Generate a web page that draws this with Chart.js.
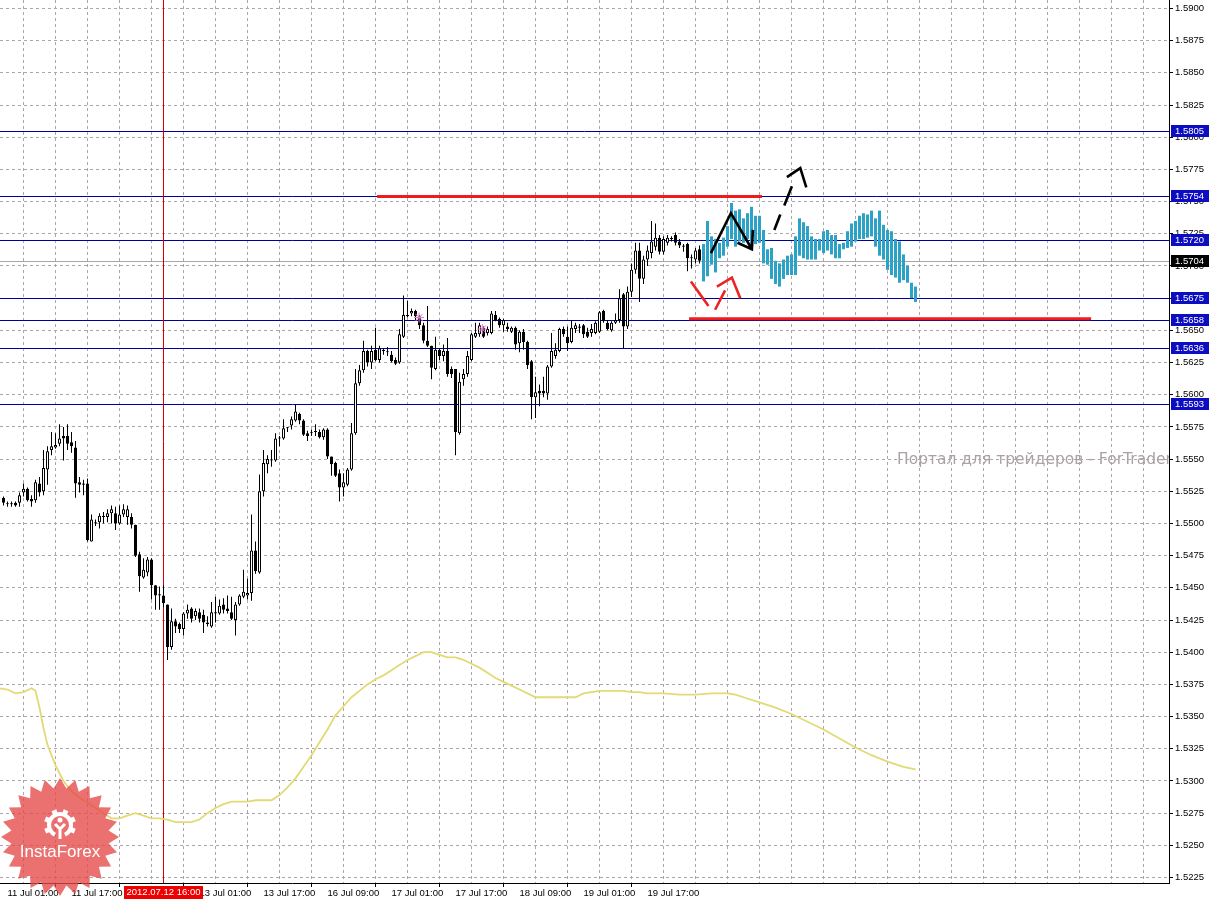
<!DOCTYPE html>
<html>
<head>
<meta charset="utf-8">
<title>GBPUSD H1</title>
<script src="https://cdn.jsdelivr.net/npm/chart.js@4.4.0/dist/chart.umd.min.js"></script>
<style>
    html, body { margin: 0; padding: 0; background: #fff; overflow: hidden; }
    #wrap { width: 1213px; height: 899px; }
</style>
</head>
<body>
<div id="wrap"><canvas id="chart" width="1213" height="899"></canvas></div>
<script>
// H1 bars, bar 0 = 11 Jul 01:00 (weekend hours skipped)
const firstBar = -1;

const opens = [
    1.5520,1.5515,1.5515,1.5516,1.5516,1.5524,1.5527,1.5519,1.5518,1.5531,
    1.5525,1.5542,1.5557,1.5559,1.5562,1.5568,1.5568,1.5563,1.5559,1.5532,
    1.5531,1.5531,1.5486,1.5500,1.5501,1.5505,1.5505,1.5508,1.5508,1.5500,
    1.5507,1.5505,1.5505,1.5499,1.5476,1.5458,1.5462,1.5472,1.5452,1.5445,
    1.5444,1.5437,1.5404,1.5424,1.5422,1.5418,1.5430,1.5434,1.5428,1.5431,
    1.5429,1.5423,1.5420,1.5430,1.5430,1.5437,1.5434,1.5431,1.5425,1.5437,
    1.5443,1.5444,1.5446,1.5479,1.5462,1.5525,1.5546,1.5549,1.5549,1.5566,
    1.5566,1.5574,1.5576,1.5580,1.5585,1.5580,1.5570,1.5570,1.5571,1.5571,
    1.5567,1.5573,1.5552,1.5547,1.5539,1.5528,1.5530,1.5542,1.5570,1.5609,
    1.5619,1.5634,1.5625,1.5635,1.5627,1.5634,1.5633,1.5631,1.5627,1.5625,
    1.5645,1.5661,1.5663,1.5665,1.5661,1.5654,1.5642,1.5638,1.5620,1.5635,
    1.5630,1.5634,1.5620,1.5620,1.5570,1.5612,1.5616,1.5627,1.5645,1.5647,
    1.5652,1.5648,1.5648,1.5662,1.5659,1.5654,1.5653,1.5649,1.5652,1.5640,
    1.5649,1.5641,1.5626,1.5598,1.5603,1.5603,1.5601,1.5622,1.5630,1.5634,
    1.5651,1.5645,1.5641,1.5651,1.5653,1.5654,1.5649,1.5648,1.5648,1.5649,
    1.5665,1.5656,1.5650,1.5656,1.5658,1.5678,1.5653,1.5680,1.5697,1.5712,
    1.5690,1.5705,1.5710,1.5715,1.5722,1.5711,1.5718,1.5721,1.5724,1.5719,
    1.5716,1.5717,1.5706,1.5705,1.5713
];
const highs = [
    1.5521,1.5517,1.5517,1.5517,1.5524,1.5531,1.5528,1.5522,1.5534,1.5536,
    1.5557,1.5560,1.5571,1.5570,1.5577,1.5575,1.5577,1.5571,1.5564,1.5536,
    1.5534,1.5535,1.5507,1.5503,1.5508,1.5509,1.5511,1.5514,1.5513,1.5514,
    1.5515,1.5514,1.5508,1.5499,1.5478,1.5473,1.5474,1.5473,1.5452,1.5451,
    1.5452,1.5437,1.5434,1.5426,1.5423,1.5431,1.5437,1.5435,1.5434,1.5434,
    1.5433,1.5428,1.5439,1.5443,1.5441,1.5442,1.5444,1.5443,1.5439,1.5445,
    1.5464,1.5457,1.5507,1.5486,1.5538,1.5557,1.5553,1.5557,1.5570,1.5568,
    1.5581,1.5575,1.5583,1.5592,1.5586,1.5581,1.5572,1.5573,1.5577,1.5573,
    1.5574,1.5574,1.5552,1.5548,1.5542,1.5539,1.5543,1.5578,1.5620,1.5623,
    1.5642,1.5635,1.5638,1.5652,1.5638,1.5636,1.5637,1.5634,1.5629,1.5651,
    1.5677,1.5673,1.5667,1.5666,1.5662,1.5656,1.5669,1.5638,1.5645,1.5636,
    1.5639,1.5644,1.5622,1.5620,1.5617,1.5620,1.5634,1.5648,1.5656,1.5656,
    1.5653,1.5653,1.5665,1.5665,1.5660,1.5659,1.5656,1.5653,1.5653,1.5650,
    1.5651,1.5642,1.5627,1.5614,1.5608,1.5614,1.5623,1.5648,1.5640,1.5652,
    1.5653,1.5653,1.5658,1.5656,1.5655,1.5655,1.5652,1.5655,1.5657,1.5665,
    1.5666,1.5658,1.5657,1.5663,1.5682,1.5679,1.5684,1.5702,1.5718,1.5718,
    1.5708,1.5716,1.5735,1.5733,1.5724,1.5723,1.5724,1.5723,1.5726,1.5721,
    1.5717,1.5718,1.5709,1.5714,1.5716
];
const lows = [
    1.5514,1.5513,1.5513,1.5513,1.5513,1.5521,1.5517,1.5513,1.5516,1.5521,
    1.5522,1.5530,1.5553,1.5558,1.5560,1.5549,1.5557,1.5555,1.5520,1.5524,
    1.5522,1.5486,1.5486,1.5498,1.5496,1.5500,1.5501,1.5500,1.5495,1.5499,
    1.5505,1.5499,1.5496,1.5474,1.5447,1.5457,1.5459,1.5441,1.5433,1.5433,
    1.5435,1.5394,1.5402,1.5415,1.5415,1.5413,1.5426,1.5423,1.5425,1.5423,
    1.5415,1.5420,1.5419,1.5423,1.5429,1.5430,1.5430,1.5425,1.5413,1.5436,
    1.5442,1.5441,1.5440,1.5461,1.5461,1.5521,1.5539,1.5544,1.5548,1.5560,
    1.5565,1.5571,1.5573,1.5579,1.5577,1.5568,1.5564,1.5568,1.5568,1.5566,
    1.5565,1.5550,1.5537,1.5536,1.5517,1.5521,1.5529,1.5541,1.5569,1.5607,
    1.5617,1.5622,1.5620,1.5626,1.5625,1.5631,1.5630,1.5625,1.5623,1.5624,
    1.5644,1.5660,1.5661,1.5658,1.5651,1.5640,1.5637,1.5612,1.5619,1.5627,
    1.5626,1.5614,1.5613,1.5553,1.5569,1.5607,1.5614,1.5626,1.5644,1.5645,
    1.5644,1.5646,1.5647,1.5657,1.5652,1.5649,1.5649,1.5648,1.5635,1.5633,
    1.5635,1.5620,1.5581,1.5582,1.5591,1.5598,1.5596,1.5621,1.5628,1.5633,
    1.5645,1.5634,1.5640,1.5648,1.5648,1.5644,1.5644,1.5645,1.5647,1.5648,
    1.5656,1.5650,1.5649,1.5655,1.5656,1.5636,1.5651,1.5676,1.5694,1.5672,
    1.5686,1.5700,1.5706,1.5712,1.5709,1.5709,1.5716,1.5719,1.5716,1.5714,
    1.5711,1.5696,1.5698,1.5702,1.5702
];
const closes = [
    1.5516,1.5515,1.5515,1.5514,1.5522,1.5527,1.5518,1.5517,1.5532,1.5524,
    1.5543,1.5556,1.5560,1.5561,1.5566,1.5566,1.5562,1.5560,1.5531,1.5530,
    1.5530,1.5487,1.5503,1.5501,1.5506,1.5506,1.5508,1.5511,1.5500,1.5507,
    1.5511,1.5511,1.5499,1.5475,1.5459,1.5464,1.5472,1.5452,1.5444,1.5444,
    1.5438,1.5404,1.5424,1.5420,1.5418,1.5430,1.5433,1.5426,1.5432,1.5426,
    1.5423,1.5422,1.5431,1.5431,1.5436,1.5433,1.5432,1.5426,1.5437,1.5444,
    1.5447,1.5446,1.5479,1.5463,1.5525,1.5547,1.5550,1.5549,1.5566,1.5566,
    1.5574,1.5574,1.5581,1.5587,1.5580,1.5569,1.5568,1.5570,1.5571,1.5567,
    1.5573,1.5552,1.5546,1.5537,1.5528,1.5532,1.5542,1.5570,1.5609,1.5619,
    1.5634,1.5625,1.5634,1.5627,1.5636,1.5634,1.5633,1.5626,1.5624,1.5647,
    1.5662,1.5662,1.5665,1.5661,1.5654,1.5642,1.5638,1.5621,1.5635,1.5630,
    1.5634,1.5616,1.5616,1.5571,1.5610,1.5616,1.5630,1.5647,1.5648,1.5654,
    1.5645,1.5651,1.5663,1.5658,1.5654,1.5658,1.5651,1.5652,1.5639,1.5649,
    1.5641,1.5623,1.5598,1.5602,1.5601,1.5601,1.5622,1.5634,1.5635,1.5651,
    1.5647,1.5640,1.5652,1.5654,1.5652,1.5647,1.5645,1.5651,1.5656,1.5664,
    1.5657,1.5651,1.5656,1.5658,1.5675,1.5653,1.5680,1.5697,1.5712,1.5690,
    1.5705,1.5712,1.5719,1.5722,1.5711,1.5721,1.5722,1.5721,1.5718,1.5716,
    1.5715,1.5706,1.5706,1.5712,1.5704
];

// projected hourly ranges (cyan bars)
const forecastStart = 174;
const forecastHigh = [
    1.5717,1.5735,1.5723,1.5721,1.5718,1.5722,1.5731,1.5749,1.5743,1.5744,
    1.5737,1.5741,1.5746,1.5739,1.5739,1.5728,1.5713,1.5714,1.5704,1.5702,
    1.5705,1.5708,1.5709,1.5723,1.5737,1.5734,1.5731,1.5723,1.5721,1.5721,
    1.5727,1.5728,1.5724,1.5724,1.5717,1.5718,1.5727,1.5733,1.5735,1.5739,
    1.5741,1.5740,1.5743,1.5737,1.5743,1.5732,1.5728,1.5727,1.5721,1.5719,
    1.5709,1.5700,1.5687,1.5684
];
const forecastLow = [
    1.5688,1.5692,1.5701,1.5695,1.5706,1.5708,1.5715,1.5721,1.5715,1.5719,
    1.5718,1.5721,1.5713,1.5717,1.5718,1.5702,1.5701,1.5690,1.5686,1.5684,
    1.5690,1.5693,1.5693,1.5693,1.5708,1.5706,1.5705,1.5705,1.5705,1.5712,
    1.5710,1.5712,1.5709,1.5706,1.5706,1.5713,1.5714,1.5715,1.5719,1.5721,
    1.5721,1.5722,1.5723,1.5715,1.5708,1.5705,1.5697,1.5693,1.5691,1.5687,
    1.5689,1.5687,1.5675,1.5672
];

// yellow moving average
const maBars = [
    -2,0,2,4,6,7,8,9,10,11,12,13,14,16,18,20,22,24,26,28,
    30,32,34,36,38,40,42,44,46,48,50,52,54,56,58,60,62,64,66,68,
    70,72,74,76,78,80,82,84,86,88,90,92,94,96,98,100,102,104,106,108,
    110,112,114,116,118,120,122,124,126,128,130,132,134,136,138,140,142,144,146,148,
    150,152,154,156,158,160,164,168,172,176,180,182,184,188,192,196,200,204,208,212,
    216,220,224,227
];
const maValues = [
    1.5372,1.5371,1.5368,1.5369,1.5372,1.5370,1.5357,1.5341,1.5328,1.5320,1.5312,1.5306,1.5300,1.5292,1.5287,1.5283,1.5279,1.5275,1.5271,1.5271,
    1.5273,1.5275,1.5273,1.5271,1.5271,1.5270,1.5268,1.5268,1.5268,1.5270,1.5275,1.5279,1.5282,1.5284,1.5284,1.5284,1.5285,1.5285,1.5285,1.5289,
    1.5295,1.5302,1.5311,1.5320,1.5330,1.5340,1.5351,1.5358,1.5365,1.5370,1.5375,1.5379,1.5382,1.5386,1.5390,1.5394,1.5397,1.5400,1.5400,1.5398,
    1.5396,1.5396,1.5394,1.5391,1.5388,1.5384,1.5380,1.5377,1.5374,1.5371,1.5368,1.5365,1.5365,1.5365,1.5365,1.5365,1.5365,1.5368,1.5369,1.5370,
    1.5370,1.5370,1.5370,1.5369,1.5369,1.5368,1.5368,1.5367,1.5367,1.5368,1.5368,1.5367,1.5365,1.5361,1.5357,1.5352,1.5346,1.5340,1.5333,1.5326,
    1.5320,1.5315,1.5311,1.5309
];

// horizontal levels
const levelPrices = [1.5805, 1.5754, 1.5720, 1.5675, 1.5658, 1.5636, 1.5593];
const lastPrice = 1.5704;

// red support / resistance segments
const redFrom = [92.4, 170.4];
const redTo = [188.6, 270.9];
const redPrice = [1.5754, 1.5659];

// hand drawn arrows (bar, price), null = pen up
const blackArrowBars = [175.85, 180.85, 186.1, null, 182.5, 186.1, 186.35];
const blackArrowPrices = [1.5710, 1.5741, 1.5713, null, 1.5718, 1.5713, 1.5728];
const dashArrowBars = [191.7, 193.2, null, 194.2, 196.1, null, 194.85, 198.2, 199.7];
const dashArrowPrices = [1.5728, 1.5740, null, 1.5747, 1.5762, null, 1.5769, 1.5776, 1.5761];
const redArrowBars = [170.85, 175.25, null, 176.9, 179.4, null, 177.35, 181.1, 183.2];
const redArrowPrices = [1.5688, 1.5669, null, 1.5666, 1.5681, null, 1.5684, 1.5691, 1.5675];

const starBars = [102.9, 118.7];
const starPrices = [1.5660, 1.5651];

// time axis
const timeTickBars = [0, 16, 32, 48, 64, 80, 96, 112, 128, 144, 160];
const timeTickLabels = ['11 Jul 01:00', '11 Jul 17:00', '12 Jul 09:00', '13 Jul 01:00', '13 Jul 17:00',
    '16 Jul 09:00', '17 Jul 01:00', '17 Jul 17:00', '18 Jul 09:00', '19 Jul 01:00', '19 Jul 17:00'];
const cursorBar = 39;
const cursorLabel = '2012.07.12 16:00';

const watermark = 'Портал для трейдеров - ForTrader.ru';

// view window
const X_MIN = -1.875, X_MAX = 290.375;
const Y_MIN = 1.522073, Y_MAX = 1.590660;

const GRID = '#aca6ac';
const LEVEL_COLOR = '#0000a0';
const AXIS_FONT = { family: '"Liberation Sans", Arial, sans-serif', size: 9.5 };

function tickText(v) {
    const k = timeTickBars.indexOf(v);
    return k >= 0 ? timeTickLabels[k] : '';
}

function pts(xs, ys) {
    return xs.map((x, k) => ({ x: x, y: ys[k] }));
}

const barIdx = opens.map((_, k) => firstBar + k);

const wickData = barIdx.map((b, k) => ({ x: b, y: [lows[k], highs[k]] }));
const bodyData = barIdx.map((b, k) => ({ x: b, y: [opens[k], closes[k]] }));
const bodyColors = barIdx.map((_, k) => closes[k] > opens[k] ? '#ffffff' : '#000000');
const forecastData = forecastHigh.map((h, k) => ({ x: forecastStart + k, y: [forecastLow[k], h] }));

const lineBase = { type: 'line', pointRadius: 0, fill: false, tension: 0, spanGaps: false };

const datasets = [
    { ...lineBase, label: 'black arrow', data: pts(blackArrowBars, blackArrowPrices), borderColor: '#000', borderWidth: 2.6, order: 0 },
    { ...lineBase, label: 'dash arrow', data: pts(dashArrowBars, dashArrowPrices), borderColor: '#000', borderWidth: 2.6, order: 0 },
    { ...lineBase, label: 'red arrow', data: pts(redArrowBars, redArrowPrices), borderColor: '#ee2222', borderWidth: 2.6, order: 0 },
    ...redPrice.map((p, k) => ({ ...lineBase, label: 'red ' + k, data: [{ x: redFrom[k], y: p }, { x: redTo[k], y: p }],
        borderColor: '#ee1c1c', borderWidth: 3, order: 1 })),
    { ...lineBase, label: 'marks', data: pts(starBars, starPrices), showLine: false, pointStyle: 'star', pointRadius: 5,
        borderColor: '#e27ac8', borderWidth: 1, order: 1 },
    { type: 'bar', label: 'bodies', data: bodyData, backgroundColor: bodyColors, borderColor: '#000', borderWidth: 1,
        borderSkipped: false, barThickness: 3, minBarLength: 1, grouped: false, inflateAmount: 0, order: 2 },
    { type: 'bar', label: 'wicks', data: wickData, backgroundColor: '#000', borderWidth: 0,
        barThickness: 1, grouped: false, inflateAmount: 0, order: 3 },
    { type: 'bar', label: 'forecast', data: forecastData, backgroundColor: '#2ba2c6', borderWidth: 0,
        barThickness: 3, grouped: false, inflateAmount: 0, order: 4 },
    { ...lineBase, label: 'MA', data: pts(maBars, maValues), borderColor: '#e2da74', borderWidth: 1.8, order: 5 },
    { ...lineBase, label: 'cursor', data: [{ x: cursorBar, y: Y_MIN }, { x: cursorBar, y: Y_MAX }], borderColor: '#d00000', borderWidth: 1, order: 6 }
];

function drawLogo(ctx, cx, cy) {
    const n = 24, rOut = 59, rIn = 49;
    ctx.save();
    ctx.beginPath();
    for (let k = 0; k < n * 2; k++) {
        const r = k % 2 === 0 ? rOut : rIn;
        const a = k * Math.PI / n - Math.PI / 2;
        ctx.lineTo(cx + r * Math.cos(a), cy + r * Math.sin(a));
    }
    ctx.closePath();
    ctx.fillStyle = 'rgba(230, 72, 72, 0.78)';
    ctx.fill();

    // gear icon
    const gx = cx, gy = cy - 12;
    ctx.fillStyle = '#fff';
    ctx.strokeStyle = '#fff';
    for (let k = 0; k < 8; k++) {
        const a = k * Math.PI / 4 + Math.PI / 8;
        if (a > Math.PI * 0.3 && a < Math.PI * 0.7) continue;
        ctx.save();
        ctx.translate(gx + 13 * Math.cos(a), gy + 13 * Math.sin(a));
        ctx.rotate(a);
        ctx.fillRect(-3, -2.5, 6, 5);
        ctx.restore();
    }
    ctx.lineWidth = 4;
    ctx.beginPath();
    ctx.arc(gx, gy, 11, Math.PI * 0.65, Math.PI * 2.35);
    ctx.stroke();
    ctx.lineWidth = 3;
    ctx.beginPath();
    ctx.moveTo(gx - 5, gy - 1); ctx.lineTo(gx, gy + 4); ctx.lineTo(gx + 5, gy - 1);
    ctx.moveTo(gx, gy + 4); ctx.lineTo(gx, gy + 14);
    ctx.stroke();
    ctx.beginPath();
    ctx.arc(gx, gy - 5, 2.5, 0, Math.PI * 2);
    ctx.fill();

    ctx.font = '17px "Liberation Sans", Arial, sans-serif';
    ctx.textAlign = 'center';
    ctx.textBaseline = 'middle';
    ctx.fillText('InstaForex', cx, cy + 15);
    ctx.restore();
}

const background = {
    id: 'background',
    beforeDraw(chart) {
        const ctx = chart.ctx;
        ctx.save();
        ctx.fillStyle = '#fff';
        ctx.fillRect(0, 0, chart.width, chart.height);
        ctx.restore();
    }
};

// watermark + horizontal price levels, under the bars
const underlay = {
    id: 'underlay',
    beforeDatasetsDraw(chart) {
        const { ctx, chartArea: a, scales: { y } } = chart;
        ctx.save();
        ctx.beginPath();
        ctx.rect(a.left, a.top, a.right - a.left, a.bottom - a.top);
        ctx.clip();
        ctx.font = '15.5px "DejaVu Sans", sans-serif';
        ctx.fillStyle = '#aca2a2';
        ctx.textBaseline = 'middle';
        ctx.textAlign = 'left';
        ctx.fillText(watermark, 897, 460);

        ctx.lineWidth = 1;
        const hline = (price, color) => {
            const py = Math.round(y.getPixelForValue(price)) + 0.5;
            ctx.strokeStyle = color;
            ctx.beginPath();
            ctx.moveTo(a.left, py);
            ctx.lineTo(a.right, py);
            ctx.stroke();
        };
        hline(lastPrice, '#a8a8a8');
        levelPrices.forEach(p => hline(p, LEVEL_COLOR));
        ctx.restore();
    }
};

const overlay = {
    id: 'overlay',
    afterDraw(chart) {
        const { ctx, chartArea: a, scales: { x, y } } = chart;
        ctx.save();
        ctx.font = AXIS_FONT.size + 'px ' + AXIS_FONT.family;
        ctx.textBaseline = 'middle';
        ctx.textAlign = 'left';
        const box = (price, bg) => {
            const py = Math.round(y.getPixelForValue(price));
            ctx.fillStyle = bg;
            ctx.fillRect(a.right + 2, py - 6, 38, 12);
            ctx.fillStyle = '#fff';
            ctx.fillText(price.toFixed(4), a.right + 6, py + 0.5);
        };
        levelPrices.forEach(p => box(p, '#0c0cc0'));
        box(lastPrice, '#000');

        // cursor time box
        const cx = x.getPixelForValue(cursorBar);
        ctx.fillStyle = '#ee0000';
        ctx.fillRect(Math.round(cx) - 40, a.bottom + 3, 79, 13);
        ctx.fillStyle = '#fff';
        ctx.textAlign = 'center';
        ctx.fillText(cursorLabel, cx, a.bottom + 9.5);

        drawLogo(ctx, 60, 837);
        ctx.restore();
    }
};

new Chart(document.getElementById('chart'), {
    type: 'bar',
    data: { datasets },
    options: {
        responsive: false,
        animation: false,
        devicePixelRatio: 1,
        events: [],
        layout: { padding: 0, autoPadding: false },
        plugins: { legend: { display: false }, tooltip: { enabled: false } },
        scales: {
            x: {
                type: 'linear', position: 'bottom', min: X_MIN, max: X_MAX, offset: false,
                grid: {
                    color: GRID, lineWidth: 1, tickLength: 4, tickWidth: 1,
                    tickColor: c => (c.tick && tickText(c.tick.value)) ? '#000' : 'rgba(0,0,0,0)'
                },
                border: { display: true, color: '#000', width: 1, dash: [3, 3] },
                ticks: {
                    stepSize: 8, includeBounds: false, autoSkip: false, maxRotation: 0, minRotation: 0,
                    align: 'start', padding: 1, font: AXIS_FONT, color: '#000',
                    callback: v => tickText(v)
                },
                afterFit: s => { s.height = 16; s.paddingLeft = 0; s.paddingRight = 0; }
            },
            y: {
                type: 'linear', position: 'right', min: Y_MIN, max: Y_MAX,
                grid: { color: GRID, lineWidth: 1, tickLength: 4, tickColor: '#000' },
                border: { display: true, color: '#000', width: 1, dash: [3, 3] },
                ticks: {
                    stepSize: 0.0025, includeBounds: false, maxTicksLimit: 1000, autoSkip: false,
                    padding: 2, font: AXIS_FONT, color: '#000',
                    callback: v => v.toFixed(4)
                },
                afterFit: s => { s.width = 44; s.paddingTop = 0; s.paddingBottom = 0; }
            }
        }
    },
    plugins: [background, underlay, overlay]
});
</script>
</body>
</html>
